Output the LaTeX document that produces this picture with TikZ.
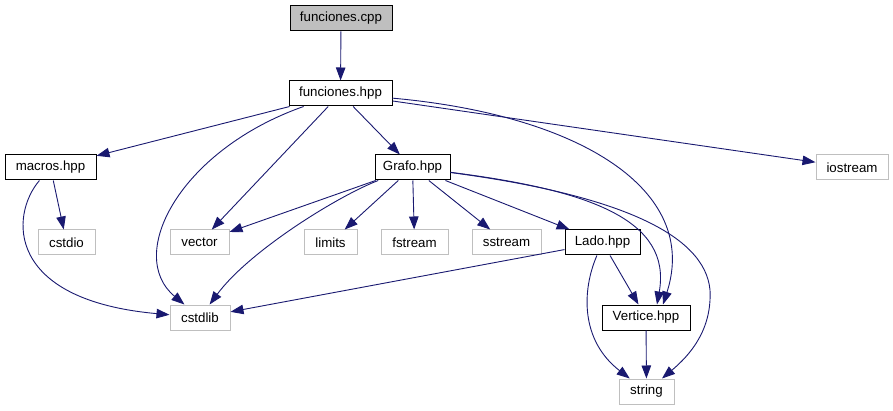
\documentclass[tikz,border=0pt]{standalone}
\usepackage{fontspec}
\setmainfont{Liberation Sans}
\usetikzlibrary{arrows.meta, calc}
\definecolor{edgeblue}{RGB}{25, 25, 112}
\definecolor{grey75}{RGB}{191, 191, 191}

\begin{document}
\begin{tikzpicture}[x=1pt, y=-1pt,
  doc/.style={rectangle, draw=black, line width=1pt, fill=white,
    font=\fontsize{13.3pt}{15pt}\selectfont,
    minimum height=25pt, inner sep=0pt},
  sys/.style={doc, draw=grey75},
  arr/.style={-{Triangle[length=13pt, width=9.5pt]}, line width=0.9pt, color=edgeblue}
]
\useasboundingbox (0,0) rectangle (893,411);
% Own headers
\node[doc, fill=grey75, minimum width=102pt] at (341, 18.5) (cpp) {funciones.cpp};
\node[doc, minimum width=103pt] at (340.5, 93.5) (hpp) {funciones.hpp};
\node[doc, minimum width=91pt] at (50.5, 167.5) (macros) {macros.hpp};
\node[doc, minimum width=75pt] at (412.5, 167.5) (grafo) {Grafo.hpp};
\node[doc, minimum width=75pt] at (602.5, 242.5) (lado) {Lado.hpp};
\node[doc, minimum width=88pt] at (646, 317.5) (vertice) {Vertice.hpp};
% System headers
\node[sys, minimum width=72pt] at (852, 167.5) (iostream) {iostream};
\node[sys, minimum width=57pt] at (66.5, 242.5) (cstdio) {cstdio};
\node[sys, minimum width=59pt] at (199.5, 242.5) (vector) {vector};
\node[sys, minimum width=53pt] at (330.5, 242.5) (limits) {limits};
\node[sys, minimum width=67pt] at (414.5, 242.5) (fstream) {fstream};
\node[sys, minimum width=69pt] at (506.5, 242.5) (sstream) {sstream};
\node[sys, minimum width=60pt] at (200, 317.5) (cstdlib) {cstdlib};
\node[sys, minimum width=55pt] at (646.5, 391.5) (string) {string};
% Includes of funciones.hpp
\draw[arr] (cpp) -- (hpp);
\draw[arr] (hpp) -- (macros);
\draw[arr] (hpp) .. controls (180,150) and (125,255) .. (cstdlib);
\draw[arr] (hpp) -- (vector);
\draw[arr] (hpp) -- (grafo);
\draw[arr] (hpp) -- (iostream);
\draw[arr] (hpp) .. controls (580,115) and (700,190) .. ([xshift=17]vertice.north);
% Includes of macros.hpp
\draw[arr] (macros) -- (cstdio);
\draw[arr] (macros) .. controls (10,215) and (5,300) .. (cstdlib);
% Includes of Grafo.hpp
\draw[arr] (grafo) -- (vector);
\draw[arr] (grafo) .. controls (340,195) and (250,250) .. (cstdlib);
\draw[arr] (grafo) -- (limits);
\draw[arr] (grafo) -- (fstream);
\draw[arr] (grafo) -- (sstream);
\draw[arr] (grafo) -- (lado);
\draw[arr] (grafo) .. controls (590,190) and (672,220) .. ([xshift=11]vertice.north);
\draw[arr] (grafo) .. controls (620,195) and (705,235) .. (710,290)
  .. controls (712,330) and (690,355) .. (string);
% Includes of Lado.hpp and Vertice.hpp
\draw[arr] (lado) -- (cstdlib);
\draw[arr] (lado) -- (vertice);
\draw[arr] (lado) .. controls (582,290) and (580,340) .. (string);
\draw[arr] (vertice) -- (string);
\end{tikzpicture}
\end{document}
